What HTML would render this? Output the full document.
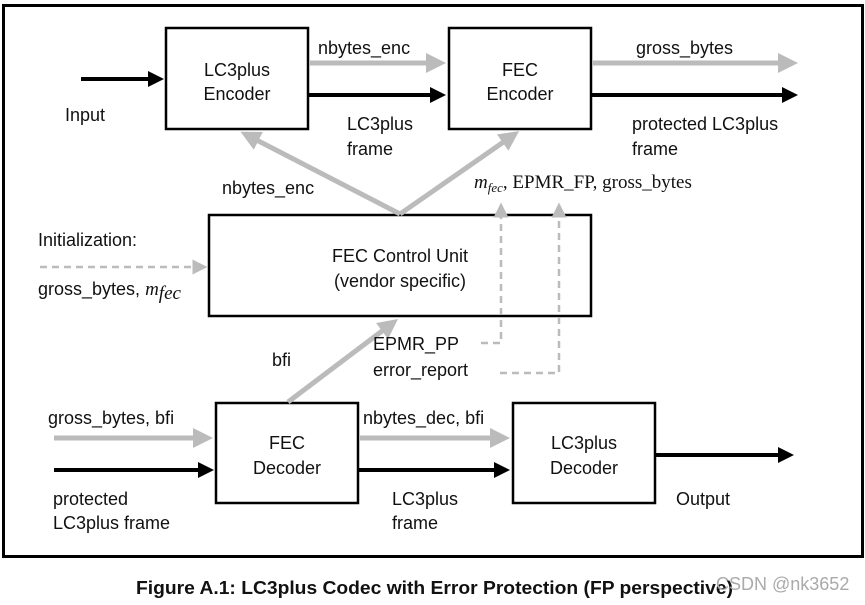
<!DOCTYPE html>
<html><head><style>
body{margin:0;background:#fff;}
svg text{font-family:"Liberation Sans",sans-serif;font-size:18px;fill:#111;}
.m{font-family:"Liberation Serif",serif;font-size:19px;}
</style></head><body>
<svg width="865" height="600" viewBox="0 0 865 600" xmlns="http://www.w3.org/2000/svg">
<defs>
<marker id="ab" markerWidth="4" markerHeight="4" refX="3" refY="2" orient="auto" markerUnits="strokeWidth"><path d="M0,0 L4,2 L0,4z" fill="#000"/></marker>
<marker id="ag" markerWidth="4" markerHeight="4" refX="3" refY="2" orient="auto" markerUnits="strokeWidth"><path d="M0,0 L4,2 L0,4z" fill="#bbb"/></marker>
<marker id="ad" markerWidth="6" markerHeight="6" refX="5" refY="3" orient="auto" markerUnits="strokeWidth"><path d="M0,0 L6,3 L0,6z" fill="#bbb"/></marker>
</defs>
<rect x="3.5" y="5.5" width="859" height="551" fill="none" stroke="#000" stroke-width="3"/>
<g fill="#fff" stroke="#000" stroke-width="2.5">
<rect x="166" y="28" width="142" height="101"/>
<rect x="449" y="28" width="142" height="101"/>
<rect x="209" y="215" width="382" height="101"/>
<rect x="216" y="403" width="142" height="100"/>
<rect x="513" y="403" width="142" height="100"/>
</g>
<g stroke="#000" stroke-width="4" fill="none">
<line x1="81" y1="79" x2="160" y2="79" marker-end="url(#ab)"/>
<line x1="309" y1="95" x2="442" y2="95" marker-end="url(#ab)"/>
<line x1="592" y1="95" x2="794" y2="95" marker-end="url(#ab)"/>
<line x1="54" y1="470" x2="210" y2="470" marker-end="url(#ab)"/>
<line x1="359" y1="470" x2="506" y2="470" marker-end="url(#ab)"/>
<line x1="656" y1="455" x2="790" y2="455" marker-end="url(#ab)"/>
</g>
<g stroke="#bbb" stroke-width="5" fill="none">
<line x1="309" y1="63" x2="441" y2="63" marker-end="url(#ag)"/>
<line x1="592" y1="63" x2="793" y2="63" marker-end="url(#ag)"/>
<line x1="54" y1="438" x2="208" y2="438" marker-end="url(#ag)"/>
<line x1="359" y1="438" x2="505" y2="438" marker-end="url(#ag)"/>
<line x1="400" y1="214" x2="245" y2="134" marker-end="url(#ag)"/>
<line x1="400" y1="214" x2="515" y2="134" marker-end="url(#ag)"/>
<line x1="288" y1="402" x2="394" y2="322" marker-end="url(#ag)"/>
</g>
<g stroke="#bbb" stroke-width="2.5" stroke-dasharray="7,5" fill="none">
<line x1="40" y1="267" x2="205" y2="267" marker-end="url(#ad)"/>
<polyline points="481,343 501,343 501,205" marker-end="url(#ad)"/>
<polyline points="500,373 559,373 559,205" marker-end="url(#ad)"/>
</g>
<text x="237" y="76" text-anchor="middle">LC3plus</text>
<text x="237" y="100" text-anchor="middle">Encoder</text>
<text x="520" y="76" text-anchor="middle">FEC</text>
<text x="520" y="100" text-anchor="middle">Encoder</text>
<text x="400" y="262" text-anchor="middle">FEC Control Unit</text>
<text x="400" y="287" text-anchor="middle">(vendor specific)</text>
<text x="287" y="449" text-anchor="middle">FEC</text>
<text x="287" y="474" text-anchor="middle">Decoder</text>
<text x="584" y="449" text-anchor="middle">LC3plus</text>
<text x="584" y="474" text-anchor="middle">Decoder</text>
<text x="318" y="54">nbytes_enc</text>
<text x="636" y="54">gross_bytes</text>
<text x="65" y="121">Input</text>
<text x="347" y="130">LC3plus</text>
<text x="347" y="155">frame</text>
<text x="632" y="130">protected LC3plus</text>
<text x="632" y="155">frame</text>
<text x="222" y="194">nbytes_enc</text>
<text class="m" x="474" y="188"><tspan font-style="italic">m</tspan><tspan font-style="italic" font-size="13" dy="4">fec</tspan><tspan dy="-4">, EPMR_FP, gross_bytes</tspan></text>
<text x="38" y="246">Initialization:</text>
<text x="38" y="295">gross_bytes, <tspan class="m" font-style="italic">m</tspan><tspan class="m" font-style="italic" font-size="13" dy="4">fec</tspan></text>
<text x="373" y="350">EPMR_PP</text>
<text x="373" y="376">error_report</text>
<text x="272" y="366">bfi</text>
<text x="48" y="424">gross_bytes, bfi</text>
<text x="363" y="424">nbytes_dec, bfi</text>
<text x="53" y="505">protected</text>
<text x="53" y="529">LC3plus frame</text>
<text x="392" y="505">LC3plus</text>
<text x="392" y="529">frame</text>
<text x="676" y="505">Output</text>
<text x="136" y="594" font-weight="bold" font-size="17" textLength="597" lengthAdjust="spacingAndGlyphs">Figure A.1: LC3plus Codec with Error Protection (FP perspective)</text>
<text x="716" y="590" font-size="18" style="fill:#aaa">CSDN @nk3652</text>
</svg>
</body></html>
